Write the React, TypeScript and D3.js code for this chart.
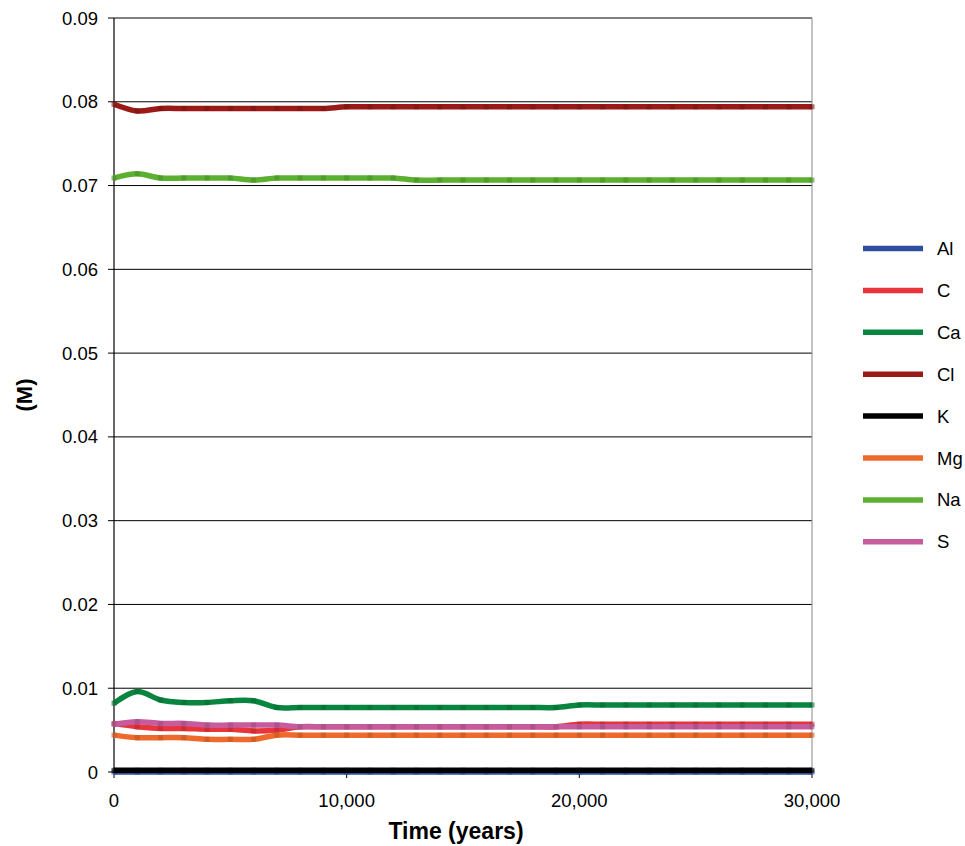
import React from "react";
import * as d3 from "d3";

const years = [
  0, 1000, 2000, 3000, 4000, 5000, 6000, 7000, 8000, 9000, 10000,
  11000, 12000, 13000, 14000, 15000, 16000, 17000, 18000, 19000, 20000,
  21000, 22000, 23000, 24000, 25000, 26000, 27000, 28000, 29000, 30000,
];

const elements = ["Al", "C", "Ca", "Cl", "K", "Mg", "Na", "S"];

const alValues = [
  0, 0, 0, 0, 0, 0, 0, 0, 0, 0, 0, 0, 0, 0, 0, 0,
  0, 0, 0, 0, 0, 0, 0, 0, 0, 0, 0, 0, 0, 0, 0,
];
const cValues = [
  0.0058, 0.0054, 0.0052, 0.0052, 0.0051, 0.0051, 0.0049, 0.0050, 0.0054, 0.0054, 0.0054,
  0.0054, 0.0054, 0.0054, 0.0054, 0.0054, 0.0054, 0.0054, 0.0054, 0.0054, 0.0057,
  0.0057, 0.0057, 0.0057, 0.0057, 0.0057, 0.0057, 0.0057, 0.0057, 0.0057, 0.0057,
];
const caValues = [
  0.0082, 0.0096, 0.0086, 0.0083, 0.0083, 0.0085, 0.0085, 0.0077, 0.0077, 0.0077, 0.0077,
  0.0077, 0.0077, 0.0077, 0.0077, 0.0077, 0.0077, 0.0077, 0.0077, 0.0077, 0.0080,
  0.0080, 0.0080, 0.0080, 0.0080, 0.0080, 0.0080, 0.0080, 0.0080, 0.0080, 0.0080,
];
const clValues = [
  0.0797, 0.0789, 0.0792, 0.0792, 0.0792, 0.0792, 0.0792, 0.0792, 0.0792, 0.0792, 0.0794,
  0.0794, 0.0794, 0.0794, 0.0794, 0.0794, 0.0794, 0.0794, 0.0794, 0.0794, 0.0794,
  0.0794, 0.0794, 0.0794, 0.0794, 0.0794, 0.0794, 0.0794, 0.0794, 0.0794, 0.0794,
];
const kValues = [
  0.0002, 0.0002, 0.0002, 0.0002, 0.0002, 0.0002, 0.0002, 0.0002, 0.0002, 0.0002, 0.0002,
  0.0002, 0.0002, 0.0002, 0.0002, 0.0002, 0.0002, 0.0002, 0.0002, 0.0002, 0.0002,
  0.0002, 0.0002, 0.0002, 0.0002, 0.0002, 0.0002, 0.0002, 0.0002, 0.0002, 0.0002,
];
const mgValues = [
  0.0044, 0.0041, 0.0041, 0.0041, 0.0039, 0.0039, 0.0039, 0.0044, 0.0044, 0.0044, 0.0044,
  0.0044, 0.0044, 0.0044, 0.0044, 0.0044, 0.0044, 0.0044, 0.0044, 0.0044, 0.0044,
  0.0044, 0.0044, 0.0044, 0.0044, 0.0044, 0.0044, 0.0044, 0.0044, 0.0044, 0.0044,
];
const naValues = [
  0.0709, 0.0714, 0.0709, 0.0709, 0.0709, 0.0709, 0.07065, 0.0709, 0.0709, 0.0709, 0.0709,
  0.0709, 0.0709, 0.07065, 0.07065, 0.07065, 0.07065, 0.07065, 0.07065, 0.07065, 0.07065,
  0.07065, 0.07065, 0.07065, 0.07065, 0.07065, 0.07065, 0.07065, 0.07065, 0.07065, 0.07065,
];
const sValues = [
  0.0057, 0.0060, 0.0058, 0.0058, 0.0056, 0.0056, 0.0056, 0.0056, 0.0054, 0.0054, 0.0054,
  0.0054, 0.0054, 0.0054, 0.0054, 0.0054, 0.0054, 0.0054, 0.0054, 0.0054, 0.0054,
  0.0054, 0.0054, 0.0054, 0.0054, 0.0054, 0.0054, 0.0054, 0.0054, 0.0054, 0.0054,
];

const seriesValues = [alValues, cValues, caValues, clValues, kValues, mgValues, naValues, sValues];
const seriesColors = ["#2F4F9E", "#E8343B", "#0A8540", "#9A1A17", "#000000", "#EE6A2C", "#5BB031", "#C65C9E"];

const yTicks = [0, 0.01, 0.02, 0.03, 0.04, 0.05, 0.06, 0.07, 0.08, 0.09];
const xTicks = [0, 10000, 20000, 30000];

const W = 965;
const H = 846;
const left = 114;
const right = 812;
const top = 18;
const bottom = 772;
const FONT = "'Liberation Sans', Arial, sans-serif";

export default function App() {
  const x = d3.scaleLinear().domain([0, 30000]).range([left, right]);
  const y = d3.scaleLinear().domain([0, 0.09]).range([bottom, top]);
  const line = d3
    .line<number>()
    .x((_, i) => x(years[i]))
    .y((v) => y(v))
    .curve(d3.curveCatmullRom.alpha(0.5));
  const fmtX = d3.format(",");

  return (
    <svg
      width={W}
      height={H}
      style={{ position: "absolute", left: 0, top: 0, background: "#fff" }}
      fontFamily={FONT}
    >
      {/* gridlines and left ticks */}
      {yTicks.map((t) => (
        <g key={t}>
          <line x1={left - 6} x2={right} y1={y(t)} y2={y(t)} stroke="#000" strokeWidth={1} />
          <text x={98} y={y(t) + 6.5} textAnchor="end" fontSize={18.5} fill="#000">
            {t === 0 ? "0" : t.toFixed(2)}
          </text>
        </g>
      ))}
      {/* right border */}
      <line x1={right} x2={right} y1={top} y2={bottom} stroke="#888" strokeWidth={1} />
      {/* y axis */}
      <line x1={left} x2={left} y1={top} y2={bottom + 1} stroke="#000" strokeWidth={1.2} />
      {/* x ticks */}
      {xTicks.map((t) => (
        <g key={t}>
          <line x1={x(t)} x2={x(t)} y1={bottom} y2={bottom + 6} stroke="#000" strokeWidth={1} />
          <text x={x(t)} y={807} textAnchor="middle" fontSize={18.5} fill="#000">
            {fmtX(t)}
          </text>
        </g>
      ))}
      {/* series */}
      {seriesValues.map((vals, si) => {
        const c = seriesColors[si];
        const mc = d3.color(c)!.darker(0.6).formatHex();
        return (
          <g key={elements[si]}>
            <path d={line(vals) || ""} fill="none" stroke={c} strokeWidth={5.5} strokeLinejoin="round" />
            {vals.map((v, i) => (
              <rect key={i} x={x(years[i]) - 2.5} y={y(v) - 2.5} width={5} height={5} fill={si === 4 ? "#000" : mc} opacity={0.6} />
            ))}
          </g>
        );
      })}
      {/* axis titles */}
      <text x={456} y={839} textAnchor="middle" fontSize={23} fontWeight="bold" fill="#000">
        Time (years)
      </text>
      <text
        transform={`translate(32,395) rotate(-90)`}
        textAnchor="middle"
        fontSize={22}
        fontWeight="bold"
        fill="#000"
      >
        (M)
      </text>
      {/* legend */}
      {elements.map((name, i) => {
        const ly = 248.5 + i * 41.9;
        return (
          <g key={name}>
            <line x1={863} x2={923} y1={ly} y2={ly} stroke={seriesColors[i]} strokeWidth={5.5} />
            <text x={937} y={ly + 6.5} fontSize={18.5} fill="#000">
              {name}
            </text>
          </g>
        );
      })}
    </svg>
  );
}
